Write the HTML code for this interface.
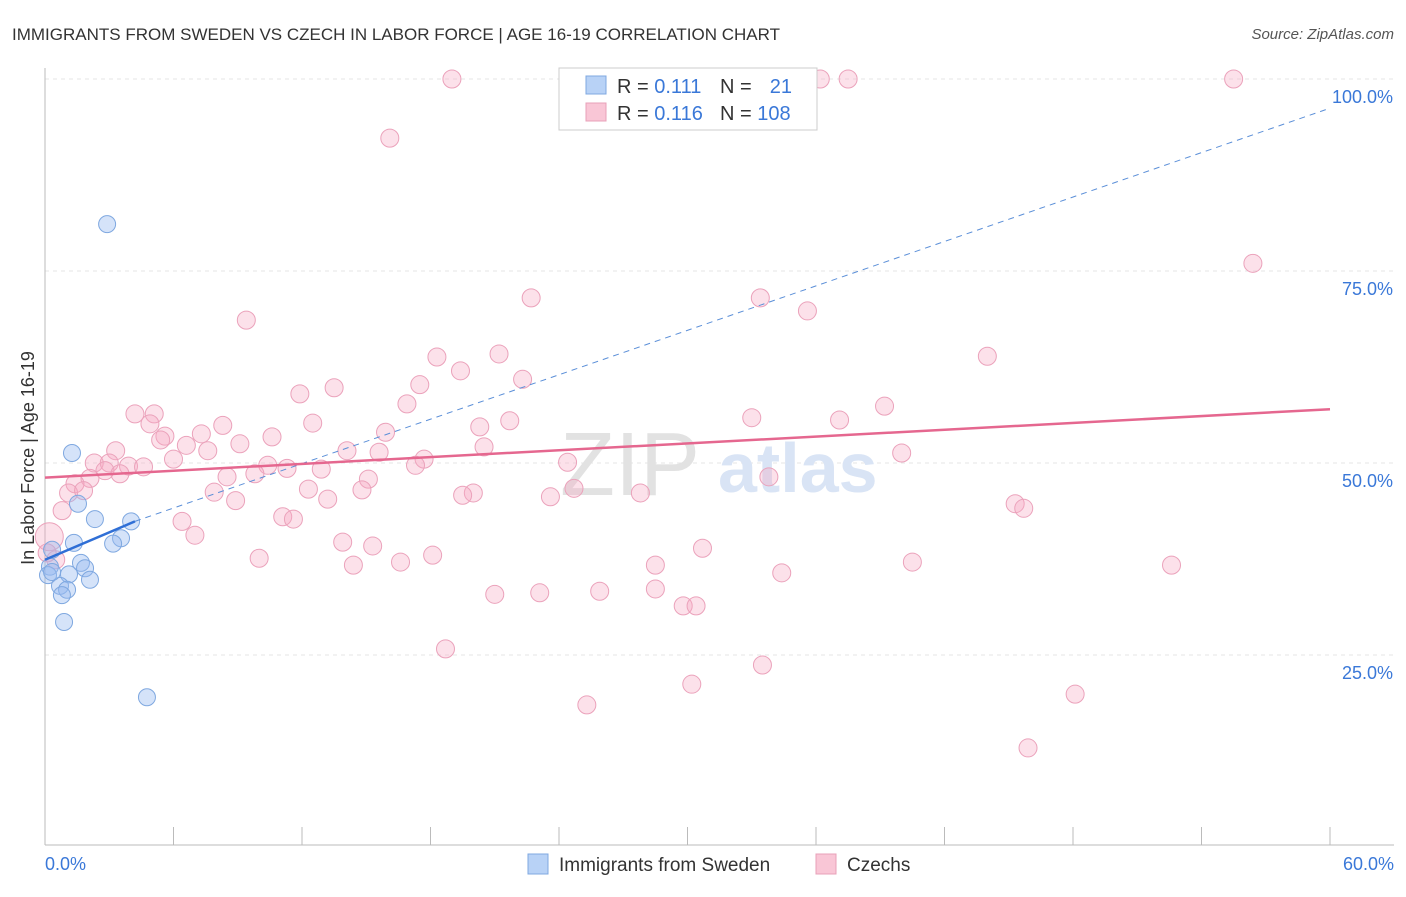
<!DOCTYPE html>
<html><head><meta charset="utf-8"><style>
body{margin:0;background:#fff;font-family:"Liberation Sans",sans-serif;}
svg text{font-family:"Liberation Sans",sans-serif;}
</style></head><body>
<svg id="chart" width="1406" height="892">
<text x="12" y="40" font-size="17" fill="#333">IMMIGRANTS FROM SWEDEN VS CZECH IN LABOR FORCE | AGE 16-19 CORRELATION CHART</text>
<text x="1394" y="39" font-size="15" fill="#555" font-style="italic" text-anchor="end">Source: ZipAtlas.com</text>
<text x="34" y="458" font-size="18" fill="#333" text-anchor="middle" transform="rotate(-90 34 458)">In Labor Force | Age 16-19</text>
<g id="grid"></g>
<text x="560" y="495" font-size="90" fill="#e2e2e2" font-family="Liberation Serif">ZIP</text>
<text x="718" y="492" font-size="70" fill="#d9e4f5" font-weight="bold">atlas</text>
<g id="pts"></g>
<g id="lines"></g>
<g>
<rect x="559" y="68" width="258" height="62" fill="#fff" stroke="#ccc"/>
<rect x="586" y="76" width="20" height="18" fill="#b8d2f6" stroke="#7fa8e0"/>
<rect x="586" y="103" width="20" height="18" fill="#f9c6d6" stroke="#e8a0b8"/>
<text x="617" y="93" font-size="20" fill="#333">R = <tspan fill="#3a78d8">0.111</tspan></text>
<text x="720" y="93" font-size="20" fill="#333">N =</text><text x="792" y="93" font-size="20" fill="#3a78d8" text-anchor="end">21</text>
<text x="617" y="120" font-size="20" fill="#333">R = <tspan fill="#3a78d8">0.116</tspan></text>
<text x="720" y="120" font-size="20" fill="#333">N = <tspan fill="#3a78d8">108</tspan></text>
</g>
<g>
<rect x="528" y="854" width="20" height="20" fill="#b8d2f6" stroke="#7fa8e0"/>
<text x="559" y="871" font-size="19" fill="#333">Immigrants from Sweden</text>
<rect x="816" y="854" width="20" height="20" fill="#f9c6d6" stroke="#e8a0b8"/>
<text x="847" y="871" font-size="19" fill="#333">Czechs</text>
</g>
</svg>
<script>
const yTicks=[25,50,75,100];
const xTickVals=[0,6,12,18,24,30,36,42,48,54,60];
const xLabels=["0.0%","60.0%"];
const blueX=[2.9,1.26,1.54,2.33,4.02,3.55,3.18,1.35,0.33,1.68,1.87,1.12,0.23,0.14,2.1,0.7,1.03,0.79,0.89,4.76,0.33];
const blueY=[81.1,51.3,44.7,42.7,42.4,40.2,39.5,39.6,38.7,37.0,36.3,35.5,36.5,35.4,34.8,34.0,33.5,32.8,29.3,19.5,35.8];
const pinkX=[19.0,29.6,36.2,37.5,55.5,31.5,16.1,56.4,9.4,22.7,33.4,35.6,44.0,18.3,21.2,19.4,22.3,17.5,13.5,11.9,16.9,39.2,4.2,5.1,33.0,37.1,8.3,4.9,12.5,21.7,20.3,15.9,7.3,5.6,10.6,5.4,6.6,9.1,14.1,7.6,3.3,40.0,15.6,20.5,6.0,17.7,24.4,10.4,2.3,3.0,17.3,3.9,4.6,11.3,12.9,2.8,9.8,8.5,15.1,3.5,2.1,1.4,12.3,14.8,24.7,1.1,1.8,7.9,20.0,19.5,27.8,23.6,13.2,8.9,0.8,45.3,45.7,11.1,11.6,6.4,7.0,13.9,15.3,30.7,18.1,10.0,0.5,0.2,0.1,40.5,28.5,14.4,16.6,52.6,34.4,28.5,25.9,23.1,21.0,29.8,30.4,18.7,33.5,30.2,48.1,25.3,45.9,33.8];
const pinkY=[100,100,100,100,100,94.8,92.3,76.0,68.6,71.5,71.5,69.8,63.9,63.8,64.2,62.0,60.9,60.2,59.8,59.0,57.7,57.4,56.4,56.4,55.9,55.6,54.9,55.1,55.2,55.5,54.7,54.0,53.8,53.5,53.4,53.0,52.3,52.5,51.6,51.6,51.6,51.3,51.4,52.1,50.5,50.5,50.1,49.7,50.0,50.0,49.7,49.6,49.5,49.3,49.2,49.0,48.6,48.2,47.9,48.6,48.0,47.3,46.6,46.5,46.7,46.1,46.4,46.2,46.1,45.8,46.1,45.6,45.3,45.1,43.8,44.7,44.1,43.0,42.7,42.4,40.6,39.7,39.2,38.9,38.0,37.6,37.4,40.4,38.3,37.1,36.7,36.7,37.1,36.7,35.7,33.6,33.3,33.1,32.9,31.4,31.4,25.8,23.7,21.2,19.9,18.5,12.9,48.2];
const blueTrend=[[0,37.4],[4.2,42.4]];
const blueDash=[[4.2,42.4],[60,96.2]];
const pinkTrend=[[0,48.1],[60,57.0]];
const X=v=>45+v*1285/60, Y=v=>847-v*7.68;
const NS="http://www.w3.org/2000/svg";
function mk(t,a,p){const e=document.createElementNS(NS,t);for(const k in a)e.setAttribute(k,a[k]);p.appendChild(e);return e;}
const g=document.getElementById('grid');
yTicks.forEach(t=>{
 const l=mk('line',{x1:45,x2:1394,y1:Y(t),y2:Y(t),stroke:'#e6e6e6','stroke-dasharray':'4,4'},g);
 
 
 const tx=mk('text',{x:1393,y:Y(t)+24,'font-size':18,fill:'#3a78d8','text-anchor':'end'},g);tx.textContent=t.toFixed(1)+'%';
 
 
});
mk('line',{x1:45,x2:45,y1:68,y2:845,stroke:'#bbb'},g);
mk('line',{x1:45,x2:1394,y1:845,y2:845,stroke:'#bbb'},g);
xTickVals.forEach(t=>{const l=mk('line',{x1:X(t),x2:X(t),y1:827,y2:845,stroke:'#bbb'},g);
 
 });
[[0,'start',45],[60,'end',1394]].forEach((d,i)=>{const tx=mk('text',{x:d[2],y:870,'font-size':18,fill:'#3a78d8','text-anchor':d[1]},g);tx.textContent=xLabels[i];
 
 });
const p=document.getElementById('pts');
pinkX.forEach((x,i)=>{const r=(i===87)?14:9;
 const c=mk('circle',{cx:X(x),cy:Y(pinkY[i]),r:r,fill:'rgba(246,170,196,0.35)',stroke:'#eba2bb','stroke-width':1},p);
 
 });
blueX.forEach((x,i)=>{const c=mk('circle',{cx:X(x),cy:Y(blueY[i]),r:8.5,fill:'rgba(150,185,240,0.4)',stroke:'#7fa8e0','stroke-width':1},p);
 
 });
const L=document.getElementById('lines');
let e=mk('line',{x1:X(blueDash[0][0]),y1:Y(blueDash[0][1]),x2:X(blueDash[1][0]),y2:Y(blueDash[1][1]),stroke:'#5b8fd8','stroke-dasharray':'6,5','stroke-width':1},L);


e=mk('line',{x1:X(blueTrend[0][0]),y1:Y(blueTrend[0][1]),x2:X(blueTrend[1][0]),y2:Y(blueTrend[1][1]),stroke:'#2f6fd6','stroke-width':2.5},L);


e=mk('line',{x1:X(pinkTrend[0][0]),y1:Y(pinkTrend[0][1]),x2:X(pinkTrend[1][0]),y2:Y(pinkTrend[1][1]),stroke:'#e5678f','stroke-width':2.5},L);


</script>
</body></html>
